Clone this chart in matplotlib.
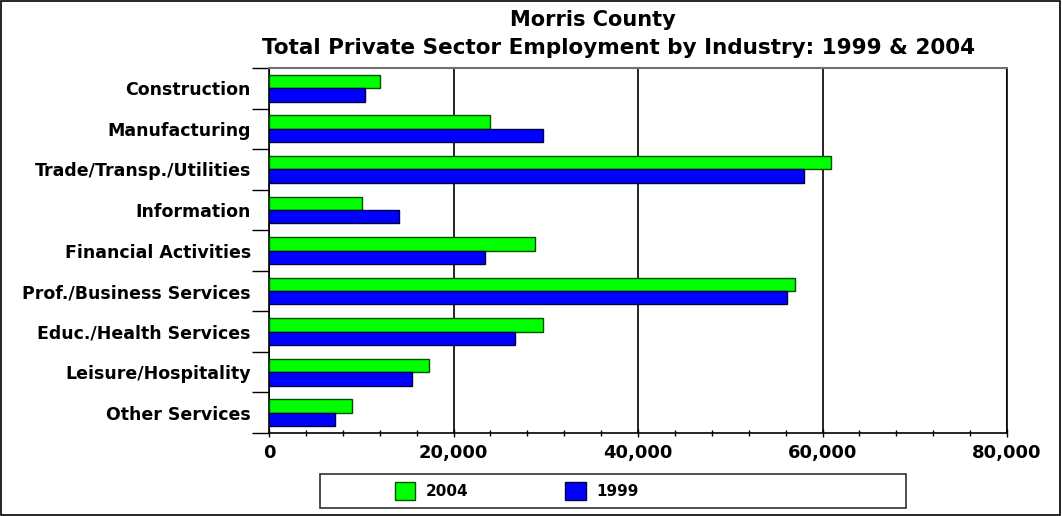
import numpy as np
import matplotlib
matplotlib.use('Agg')
import matplotlib.pyplot as plt
from matplotlib.patches import Rectangle, Patch

industries = ['Construction', 'Manufacturing', 'Trade/Transp./Utilities', 'Information',
              'Financial Activities', 'Prof./Business Services', 'Educ./Health Services',
              'Leisure/Hospitality', 'Other Services']
emp_2004 = [12000, 24000, 60900, 10050, 28800, 57000, 29750, 17350, 8950]
emp_1999 = [10400, 29750, 57950, 14050, 23450, 56100, 26650, 15450, 7150]
xticks = [0, 20000, 40000, 60000, 80000]

plt.rcParams['font.family'] = 'DejaVu Sans'
plt.rcParams['font.weight'] = 'bold'

fig = plt.figure(figsize=(10.62, 5.16), dpi=100)
ax = fig.add_axes([269/1062, 1-433/516, 738/1062, 365/516])

y = np.arange(len(industries))
h = 0.33
ax.barh(y - h/2, emp_2004, height=h, color='#00ff00', edgecolor='#005000', linewidth=1, zorder=3)
ax.barh(y + h/2, emp_1999, height=h, color='#0000ff', edgecolor='#000040', linewidth=1, zorder=3)

ax.set_ylim(len(industries) - 0.5, -0.5)
ax.set_xlim(0, 80000)
ax.set_yticks(y)
ax.set_yticklabels(industries, fontsize=12.5, fontweight='bold')
ax.set_yticks(np.arange(len(industries) + 1) - 0.5, minor=True)
ax.tick_params(axis='y', which='major', length=0, pad=13)
ax.tick_params(axis='y', which='minor', length=12, width=1)
ax.set_xticks(xticks)
ax.set_xticklabels(['{:,}'.format(v) for v in xticks], fontsize=13, fontweight='bold')
ax.set_xticks(np.arange(0, 80001, 4000), minor=True)
ax.tick_params(axis='x', which='major', length=6, width=1, direction='inout', pad=5)
ax.tick_params(axis='x', which='minor', length=4, width=1, direction='inout')
ax.grid(axis='x', which='major', color='black', linewidth=1.2, zorder=1)
ax.set_axisbelow(True)
for s in ['left', 'bottom', 'right']:
    ax.spines[s].set_color('black')
    ax.spines[s].set_linewidth(1.2)
ax.spines['top'].set_color('#707070')
ax.spines['top'].set_linewidth(1.5)

fig.text(593/1062, 1-20/516, 'Morris County', ha='center', va='center', fontsize=15, fontweight='bold')
fig.text(618/1062, 1-48/516, 'Total Private Sector Employment by Industry: 1999 & 2004',
         ha='center', va='center', fontsize=15.5, fontweight='bold')

# legend box
fig.add_artist(Rectangle((320/1062, 1-508/516), 586/1062, 34/516, transform=fig.transFigure,
                         facecolor='white', edgecolor='#303030', linewidth=1.2))
handles = [Patch(facecolor='#00ff00', edgecolor='#005000', label='2004'),
           Patch(facecolor='#0000ff', edgecolor='#000040', label='1999')]
fig.legend(handles=handles, loc='center left', bbox_to_anchor=(381/1062, 1-491/516),
           ncol=2, frameon=False, handlelength=1.35, handleheight=1.35,
           handletextpad=0.7, columnspacing=6.3, prop={'weight': 'bold', 'size': 11})

# outer frame
fig.add_artist(Rectangle((0.001, 0.002), 0.997, 0.996, transform=fig.transFigure,
                         facecolor='none', edgecolor='black', linewidth=1.2))

fig.savefig('out.png', dpi=100)
